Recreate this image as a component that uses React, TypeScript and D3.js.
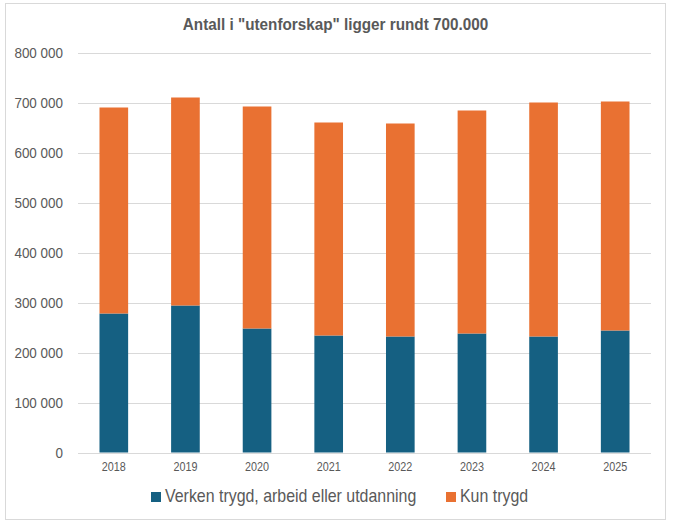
import React, { useEffect, useRef } from 'react'
import * as d3 from 'd3'

const years = ['2018', '2019', '2020', '2021', '2022', '2023', '2024', '2025']
const verken = [278000, 294000, 248000, 234000, 232000, 238000, 232000, 244000]
const kunTrygd = [412000, 416000, 444000, 426000, 426000, 446000, 468000, 458000]
const seriesNames = ['Verken trygd, arbeid eller utdanning', 'Kun trygd']
const yTicks = [0, 100000, 200000, 300000, 400000, 500000, 600000, 700000, 800000]
const title = 'Antall i "utenforskap" ligger rundt 700.000'

const W = 674
const H = 528
// no narrow font installed, so squeeze Liberation Sans horizontally
const FONT = "'Liberation Sans', Arial, sans-serif"
const TEXT = '#595959'
const COLORS = ['#156082', '#E97132']

export default function App() {
  const svgRef = useRef<SVGSVGElement>(null)

  useEffect(() => {
    if (!svgRef.current) return
    const svg = d3.select(svgRef.current)
    svg.selectAll('*').remove()

    const place = (px: number, py: number, sx: number) => `translate(${px},${py}) scale(${sx},1)`

    // chart frame
    svg.append('rect')
      .attr('x', 5.5).attr('y', 3.5)
      .attr('width', 660).attr('height', 516)
      .attr('fill', '#fff')
      .attr('stroke', '#d9d9d9')

    svg.append('text')
      .attr('transform', place(335.5, 29.5, 0.955))
      .attr('text-anchor', 'middle')
      .attr('fill', TEXT)
      .style('font-family', FONT)
      .style('font-size', '16px')
      .style('font-weight', 'bold')
      .text(title)

    const x = d3.scaleBand<string>()
      .domain(years)
      .range([78, 651])
      .paddingInner(0.6)
      .paddingOuter(0.3)

    const y = d3.scaleLinear()
      .domain([0, 800000])
      .range([452.5, 52.5])

    const locale = d3.formatLocale({ decimal: ',', thousands: '\u00a0', grouping: [3], currency: ['', ' kr'] })
    const fmt = locale.format(',d')

    // grid lines
    svg.selectAll('.grid')
      .data(yTicks)
      .enter()
      .append('line')
      .attr('x1', 78).attr('x2', 651)
      .attr('y1', d => Math.round(y(d)) + 0.5)
      .attr('y2', d => Math.round(y(d)) + 0.5)
      .attr('stroke', '#d9d9d9')
      .attr('stroke-width', 1)

    svg.selectAll('.ylab')
      .data(yTicks)
      .enter()
      .append('text')
      .attr('transform', d => place(63, y(d), 0.96))
      .attr('dy', '0.36em')
      .attr('text-anchor', 'end')
      .attr('fill', TEXT)
      .style('font-family', FONT)
      .style('font-size', '14px')
      .text(d => fmt(d))

    // stacked bars
    const rows = years.map((yr, i) => ({ year: yr, a: verken[i], b: kunTrygd[i] }))
    const stacked = d3.stack<{ year: string; a: number; b: number }>().keys(['a', 'b'])(rows)

    svg.selectAll('.series')
      .data(stacked)
      .enter()
      .append('g')
      .attr('fill', (_, i) => COLORS[i])
      .selectAll('rect')
      .data(d => d)
      .enter()
      .append('rect')
      .attr('x', d => x(d.data.year) as number)
      .attr('width', x.bandwidth())
      .attr('y', d => y(d[1]))
      .attr('height', d => y(d[0]) - y(d[1]))

    // baseline over the bars
    svg.append('line')
      .attr('x1', 78).attr('x2', 651)
      .attr('y1', Math.round(y(0)) + 0.5).attr('y2', Math.round(y(0)) + 0.5)
      .attr('stroke', '#d9d9d9')

    svg.selectAll('.xlab')
      .data(years)
      .enter()
      .append('text')
      .attr('transform', d => place((x(d) as number) + x.bandwidth() / 2, 471, 0.9))
      .attr('text-anchor', 'middle')
      .attr('fill', TEXT)
      .style('font-family', FONT)
      .style('font-size', '12px')
      .text(d => d)

    // legend
    const legendX = [151, 446]
    seriesNames.forEach((name, i) => {
      svg.append('rect')
        .attr('x', legendX[i]).attr('y', 492)
        .attr('width', 10).attr('height', 10)
        .attr('fill', COLORS[i])
      svg.append('text')
        .attr('transform', place(legendX[i] + 14, 502, 0.91))
        .attr('fill', TEXT)
        .style('font-family', FONT)
        .style('font-size', '17.5px')
        .text(name)
    })
  }, [])

  return (
    <div style={{ position: 'absolute', left: 0, top: 0 }}>
      <svg ref={svgRef} width={W} height={H} style={{ display: 'block' }} />
    </div>
  )
}
